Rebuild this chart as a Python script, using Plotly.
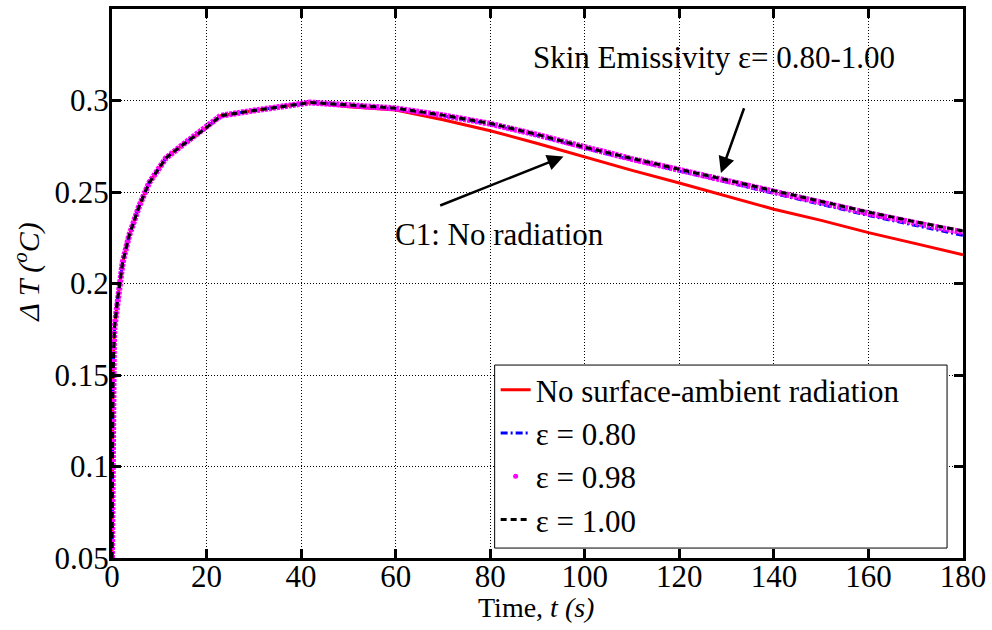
import plotly.graph_objects as go

# ---- data ----
t_rise = [0, 0.05, 0.1, 0.2, 0.3, 0.4, 0.5, 0.75, 1.2, 2.25, 3.6, 5.75, 7.85,
          11.4, 14.9, 19.8, 23, 30, 42]
dT_rise = [0.05, 0.085, 0.1285, 0.145, 0.157, 0.1665, 0.1755, 0.181, 0.1916,
           0.2115, 0.226, 0.2423, 0.255, 0.2685, 0.2757, 0.2848, 0.2917,
           0.2945, 0.2989]

t_decay = [50, 60, 70, 80, 90, 100, 110, 120, 130, 140, 150, 160, 170, 180]
dT_no_rad = [0.2966, 0.2948, 0.2895, 0.2835, 0.2765, 0.2690, 0.2618, 0.2549,
             0.2478, 0.2406, 0.2345, 0.2278, 0.2218, 0.2157]
dT_eps080 = [0.2975, 0.2955, 0.2917, 0.2870, 0.2808, 0.2738, 0.2675, 0.2616,
             0.2554, 0.2492, 0.2431, 0.2372, 0.2317, 0.2263]
dT_eps098 = [0.2975, 0.2957, 0.2919, 0.2873, 0.2812, 0.2742, 0.2680, 0.2621,
             0.2560, 0.2500, 0.2440, 0.2384, 0.2330, 0.2280]
dT_eps100 = [0.2976, 0.2958, 0.2920, 0.2875, 0.2814, 0.2745, 0.2683, 0.2625,
             0.2565, 0.2506, 0.2447, 0.2390, 0.2337, 0.2287]

x_ticks = [0, 20, 40, 60, 80, 100, 120, 140, 160, 180]
y_ticks = [0.05, 0.1, 0.15, 0.2, 0.25, 0.3]
y_tick_labels = ["0.05", "0.1", "0.15", "0.2", "0.25", "0.3"]

names = ["No surface-ambient radiation", "ε = 0.80", "ε = 0.98", "ε = 1.00"]

FONT = "Liberation Serif"
FS = 31

t_all = t_rise + t_decay

fig = go.Figure()
fig.add_trace(go.Scatter(x=t_all, y=dT_rise + dT_no_rad, mode="lines",
                         name=names[0], legendrank=1,
                         line=dict(color="#ff0000", width=3)))
fig.add_trace(go.Scatter(x=t_all, y=dT_rise + dT_eps080, mode="lines",
                         name=names[1], legendrank=2,
                         line=dict(color="#0000ff", width=3, dash="7px,3px,2px,3px")))
fig.add_trace(go.Scatter(x=t_all, y=dT_rise + dT_eps098, mode="lines",
                         name=names[2], showlegend=False,
                         line=dict(color="#ff00ff", width=6, dash="3px,1px")))
# legend-only entry for the dotted magenta series
fig.add_trace(go.Scatter(x=[None], y=[None], mode="markers", name=names[2],
                         legendrank=3,
                         marker=dict(color="#ff00ff", size=5)))
fig.add_trace(go.Scatter(x=t_all, y=dT_rise + dT_eps100, mode="lines",
                         name=names[3], legendrank=4,
                         line=dict(color="#000000", width=3, dash="6px,4px")))

axis_common = dict(
    showline=True, linecolor="black", linewidth=3, mirror="ticks",
    ticks="inside", ticklen=9, tickwidth=3, tickcolor="black",
    showgrid=True, gridcolor="black", gridwidth=1, griddash="1px,2px",
    zeroline=False,
    tickfont=dict(family=FONT, size=FS, color="black"),
)

fig.update_xaxes(range=[0, 180], tickvals=x_ticks, ticklabelstandoff=-11,
                 **axis_common)
fig.update_yaxes(range=[0.05, 0.35], tickvals=y_ticks, ticktext=y_tick_labels,
                 ticklabelstandoff=-6, **axis_common)

L, R, T, B = 112, 26, 6, 72
W, H = 992, 630
pw, ph = W - L - R, H - T - B


def px_x(px):
    return (px - L) / pw


def px_y(py):
    return 1 - (py - T) / ph


annotations = [
    # axis titles
    dict(text="Time, <i>t (s)</i>", x=px_x(537), y=px_y(608), xref="paper",
         yref="paper", showarrow=False, xanchor="center", yanchor="middle",
         font=dict(family=FONT, size=28, color="black")),
    dict(text="<i>Δ T (<sup>o</sup>C)</i>", x=px_x(27), y=px_y(270), xref="paper",
         yref="paper", showarrow=False, textangle=-90, xanchor="center",
         yanchor="middle", font=dict(family=FONT, size=30, color="black")),
    # text labels
    dict(text="Skin Emissivity ε= 0.80-1.00", x=127.3, y=0.3233, xref="x",
         yref="y", showarrow=False, xanchor="center", yanchor="middle",
         font=dict(family=FONT, size=FS, color="black")),
    dict(text="C1: No radiation", x=81.9, y=0.2267, xref="x", yref="y",
         showarrow=False, xanchor="center", yanchor="middle",
         font=dict(family=FONT, size=FS, color="black")),
    # arrows
    dict(text="", x=128.8, y=0.2604, ax=133.8, ay=0.2966, xref="x", yref="y",
         axref="x", ayref="y", showarrow=True, arrowhead=2, arrowsize=1.3,
         arrowwidth=2.5, arrowcolor="black", standoff=0),
    dict(text="", x=95.5, y=0.2694, ax=69.1, ay=0.2423, xref="x", yref="y",
         axref="x", ayref="y", showarrow=True, arrowhead=2, arrowsize=1.3,
         arrowwidth=2.5, arrowcolor="black", standoff=0),
]

# legend frame (wider than plotly's auto-sized box, as in the reference)
legend_box = dict(type="rect", xref="paper", yref="paper",
                  x0=px_x(496), x1=px_x(950), y0=px_y(548), y1=px_y(364),
                  line=dict(color="black", width=1), fillcolor="white",
                  layer="above")

fig.update_layout(
    width=W, height=H,
    margin=dict(l=L, r=R, t=T, b=B),
    paper_bgcolor="white", plot_bgcolor="white",
    font=dict(family=FONT, size=FS, color="black"),
    showlegend=True,
    legend=dict(x=px_x(497), y=px_y(362), xanchor="left", yanchor="top",
                bgcolor="rgba(0,0,0,0)", borderwidth=0,
                font=dict(family=FONT, size=FS, color="black"),
                tracegroupgap=0, itemwidth=30),
    shapes=[legend_box],
    annotations=annotations,
)

fig.write_html("out.html")
